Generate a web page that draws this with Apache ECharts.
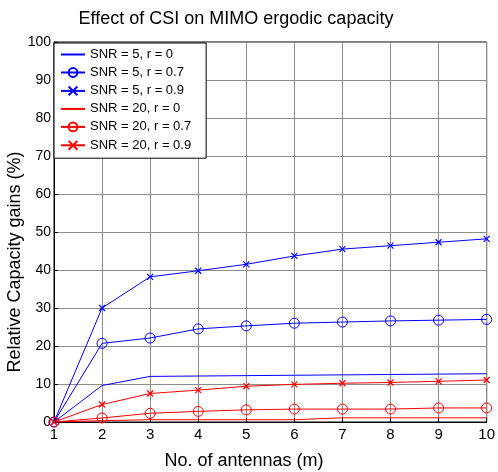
<!DOCTYPE html>
<html>
<head>
<meta charset="utf-8">
<script src="https://cdn.jsdelivr.net/npm/echarts@6/dist/echarts.min.js"></script>
<style>html,body{margin:0;padding:0;background:#fff;}#c{width:498px;height:472px;}</style>
</head>
<body>
<div id="c"></div>
<script>
var antennas = [1, 2, 3, 4, 5, 6, 7, 8, 9, 10];
var snr5_r0  = [0, 9.6, 12.0, 12.1, 12.2, 12.3, 12.4, 12.5, 12.6, 12.7];
var snr5_r07 = [0, 20.7, 22.1, 24.5, 25.3, 26.0, 26.3, 26.6, 26.8, 27.0];
var snr5_r09 = [0, 30.0, 38.2, 39.8, 41.5, 43.7, 45.5, 46.4, 47.3, 48.2];
var snr20_r0  = [0, 0.35, 0.6, 0.6, 0.6, 0.6, 1.1, 1.1, 1.1, 1.1];
var snr20_r07 = [0, 1.05, 2.3, 2.8, 3.2, 3.4, 3.4, 3.4, 3.7, 3.7];
var snr20_r09 = [0, 4.6, 7.5, 8.4, 9.4, 9.9, 10.2, 10.4, 10.7, 11.05];
var yTicks = [0, 10, 20, 30, 40, 50, 60, 70, 80, 90, 100];
var seriesNames = ['SNR = 5, r = 0', 'SNR = 5, r = 0.7', 'SNR = 5, r = 0.9', 'SNR = 20, r = 0', 'SNR = 20, r = 0.7', 'SNR = 20, r = 0.9'];

var FONT = 'Liberation Sans, Arial, sans-serif';
var XPATH = 'path://M0,0L10,10M10,0L0,10';

function pts(arr) { return antennas.map(function (x, i) { return [x, arr[i]]; }); }

function mk(name, arr, color, kind) {
  var s = {
    name: name, type: 'line', data: pts(arr), z: 5,
    lineStyle: { color: color, width: 1 },
    emphasis: { disabled: true },
    animation: false
  };
  if (kind === 'none') {
    s.symbol = 'none';
    s.itemStyle = { color: color };
  } else if (kind === 'circle') {
    s.symbol = 'circle'; s.symbolSize = 10;
    s.itemStyle = { color: 'none', borderColor: color, borderWidth: 1 };
  } else {
    s.symbol = XPATH; s.symbolSize = 6;
    s.itemStyle = { color: 'none', borderColor: color, borderWidth: 1.2 };
  }
  return s;
}

var legendData = seriesNames.map(function (n, i) {
  if (i === 0 || i === 3) {
    return { name: n, itemStyle: { color: 'rgba(0,0,0,0)', borderColor: 'rgba(0,0,0,0)', borderWidth: 0 } };
  }
  return { name: n };
});

var chart = echarts.init(document.getElementById('c'), null, { renderer: 'canvas' });
chart.setOption({
  backgroundColor: '#fff',
  animation: false,
  textStyle: { fontFamily: FONT },
  grid: { left: 54, right: 11, top: 42, bottom: 50, show: true, borderColor: '#000', borderWidth: 1, backgroundColor: 'transparent' },
  xAxis: {
    type: 'value', min: 1, max: 10, interval: 1,
    axisLine: { show: true, lineStyle: { color: '#000', width: 1 } },
    axisTick: { show: true, inside: true, length: 4, lineStyle: { color: '#000' } },
    axisLabel: { color: '#000', fontSize: 15, fontFamily: FONT, margin: 5 },
    splitLine: { show: true, lineStyle: { color: '#8c8c8c', width: 1 } }
  },
  yAxis: {
    type: 'value', min: yTicks[0], max: yTicks[yTicks.length - 1], interval: 10,
    axisLine: { show: true, lineStyle: { color: '#000', width: 1 } },
    axisTick: { show: true, inside: true, length: 4, lineStyle: { color: '#000' } },
    axisLabel: { color: '#000', fontSize: 14, fontFamily: FONT, margin: 3 },
    splitLine: { show: true, lineStyle: { color: '#8c8c8c', width: 1 } }
  },
  legend: {
    data: legendData,
    orient: 'vertical', left: 54, top: 43,
    padding: [5, 15, 6, 6],
    itemWidth: 24, itemHeight: 11, itemGap: 4.6,
    backgroundColor: '#fff', borderColor: '#000', borderWidth: 1,
    textStyle: { color: '#000', fontSize: 13, fontFamily: FONT },
    selectedMode: false, z: 10
  },
  graphic: [
    { type: 'text', x: 236, y: 19, style: { text: 'Effect of CSI on MIMO ergodic capacity', font: '18px ' + FONT, fill: '#000', align: 'center', verticalAlign: 'middle' } },
    { type: 'text', x: 244, y: 461, style: { text: 'No. of antennas (m)', font: '18px ' + FONT, fill: '#000', align: 'center', verticalAlign: 'middle' } },
    { type: 'text', x: 15, y: 262, rotation: Math.PI / 2, style: { text: 'Relative Capacity gains (%)', font: '18px ' + FONT, fill: '#000', align: 'center', verticalAlign: 'middle' } }
  ],
  series: [
    mk(seriesNames[0], snr5_r0, '#0000ff', 'none'),
    mk(seriesNames[1], snr5_r07, '#0000ff', 'circle'),
    mk(seriesNames[2], snr5_r09, '#0000ff', 'x'),
    mk(seriesNames[3], snr20_r0, '#ff0000', 'none'),
    mk(seriesNames[4], snr20_r07, '#ff0000', 'circle'),
    mk(seriesNames[5], snr20_r09, '#ff0000', 'x')
  ]
});
</script>
</body>
</html>
